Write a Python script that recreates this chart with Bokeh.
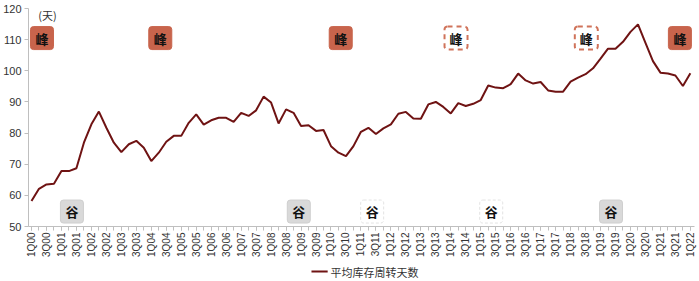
from bokeh.plotting import figure
from bokeh.models import Label, FixedTicker, Range1d
from bokeh.layouts import column
from bokeh.core.properties import value
from bokeh.embed import file_html
from bokeh.resources import INLINE

# ---- data ----
quarters = [f"{q}Q{y:02d}" for y in range(0, 23) for q in range(1, 5)][:89]
turnover_days = [
    58.2, 62.1, 63.5, 63.7, 67.8, 67.8, 68.7, 76.9, 82.8, 86.9,
    81.7, 76.9, 73.9, 76.4, 77.5, 75.3, 71.0, 73.7, 77.2, 79.1,
    79.1, 83.3, 86.0, 82.7, 84.1, 84.9, 84.9, 83.6, 86.5, 85.5,
    87.3, 91.7, 89.8, 83.1, 87.6, 86.5, 82.3, 82.5, 80.7, 81.0,
    75.8, 73.7, 72.6, 75.8, 80.4, 81.7, 79.7, 81.5, 82.8, 86.2,
    86.8, 84.7, 84.6, 89.2, 90.0, 88.4, 86.3, 89.6, 88.7, 89.4,
    90.6, 95.3, 94.6, 94.4, 95.7, 99.1, 96.9, 95.9, 96.4, 93.7,
    93.3, 93.3, 96.5, 97.8, 98.9, 100.8, 103.9, 107.1, 107.1, 109.3,
    112.5, 114.9, 109.0, 103.1, 99.4, 99.1, 98.5, 95.1, 99.2,
]
series_name = "平均库存周转天数"
unit_label = "(天)"

# annotation markers: (x position in quarter index, style)
peak_pos = [1.4, 17.2, 41.3, 56.7, 74.1, 86.6]
peak_style = ["solid", "solid", "solid", "dashed", "dashed", "solid"]
trough_pos = [5.4, 35.7, 45.5, 61.4, 77.4]
trough_style = ["gray", "gray", "white", "white", "gray"]
peak_y = 110.5
trough_y = 54.8

LINE_COLOR = "#6f1313"
x = list(range(len(turnover_days)))

p = figure(output_backend="svg", toolbar_location=None,
           x_range=Range1d(-0.4, 88.55), y_range=Range1d(50, 120),
           min_border_left=28, min_border_right=5, min_border_top=8,
           min_border_bottom=36)
p.frame_width = 666
p.frame_height = 218
p.outline_line_color = None
p.xgrid.visible = False
p.ygrid.visible = False
p.background_fill_color = "white"
p.border_fill_color = "white"

r = p.line(x, turnover_days, line_color=LINE_COLOR, line_width=2)

# axes
p.yaxis.ticker = FixedTicker(ticks=list(range(50, 121, 10)))
p.yaxis.axis_line_color = "#bfbfbf"
p.yaxis.major_tick_line_color = "#bfbfbf"
p.yaxis.major_tick_out = 4
p.yaxis.major_tick_in = 0
p.yaxis.minor_tick_line_color = None
p.yaxis.major_label_text_font = "Liberation Sans"
p.yaxis.major_label_text_font_size = "11px"
p.yaxis.major_label_text_color = "#333333"
p.yaxis.major_label_standoff = 3

p.xaxis.ticker = FixedTicker(ticks=list(range(0, 89, 2)), minor_ticks=list(range(0, 89)))
p.xaxis.major_label_overrides = {i: quarters[i] for i in range(0, 89, 2)}
p.xaxis.major_label_orientation = 3.14159265 / 2
p.xaxis.axis_line_color = "#bfbfbf"
p.xaxis.major_tick_line_color = "#bfbfbf"
p.xaxis.minor_tick_line_color = "#bfbfbf"
p.xaxis.major_tick_out = 4
p.xaxis.major_tick_in = 0
p.xaxis.minor_tick_out = 4
p.xaxis.minor_tick_in = 0
p.xaxis.major_label_text_font = "Liberation Sans"
p.xaxis.major_label_text_font_size = "10px"
p.xaxis.major_label_text_color = "#333333"
p.xaxis.major_label_standoff = 2

# unit label
p.add_layout(Label(x=0.9, y=117.9, text=unit_label, text_font="Noto Sans CJK SC",
                   text_font_size="11px", text_color="#333333", text_baseline="middle"))

def box(xv, yv, txt, fill, border, dash, bw):
    shadow = Label(x=xv, y=yv, text=txt, text_align="center", text_baseline="middle",
                   text_font="Noto Sans CJK SC", text_font_size="13px", text_alpha=0,
                   background_fill_color="#888888", background_fill_alpha=0.35,
                   x_offset=2, y_offset=-2, padding=(5, 2), border_radius=3)
    p.add_layout(shadow)
    lab = Label(x=xv, y=yv, text=txt, text_align="center", text_baseline="middle",
                text_font="Noto Sans CJK SC", text_font_size="13px", text_font_style="bold",
                text_color="#111111", background_fill_color=fill,
                border_line_color=border, border_line_width=bw,
                border_line_dash=dash, padding=(5, 2), border_radius=3)
    p.add_layout(lab)

for xv, st in zip(peak_pos, peak_style):
    if st == "solid":
        box(xv, peak_y, "峰", "#c8644c", "#c8644c", "solid", 1)
    else:
        box(xv, peak_y, "峰", "white", "#d0735a", "5 4", 2)

for xv, st in zip(trough_pos, trough_style):
    if st == "gray":
        box(xv, trough_y, "谷", "#d9d9d9", "#cfcfcf", "solid", 1)
    else:
        box(xv, trough_y, "谷", "white", "#e3e3e3", "3 2", 1)

# legend strip (separate small figure below the chart)
leg = figure(width=699, height=19, output_backend="svg", toolbar_location=None,
             x_range=Range1d(0, 699), y_range=Range1d(0, 19),
             min_border=0, outline_line_color=None)
leg.axis.visible = False
leg.grid.visible = False
leg.line([297, 314], [10, 10], line_color=LINE_COLOR, line_width=2)
leg.text([317], [10], text=[series_name], text_font=value("Noto Sans CJK SC"),
         text_font_size="11px", text_color="#333333", text_baseline="middle")

layout = column(p, leg, spacing=0)
open("out.html", "w").write(file_html(layout, INLINE))
